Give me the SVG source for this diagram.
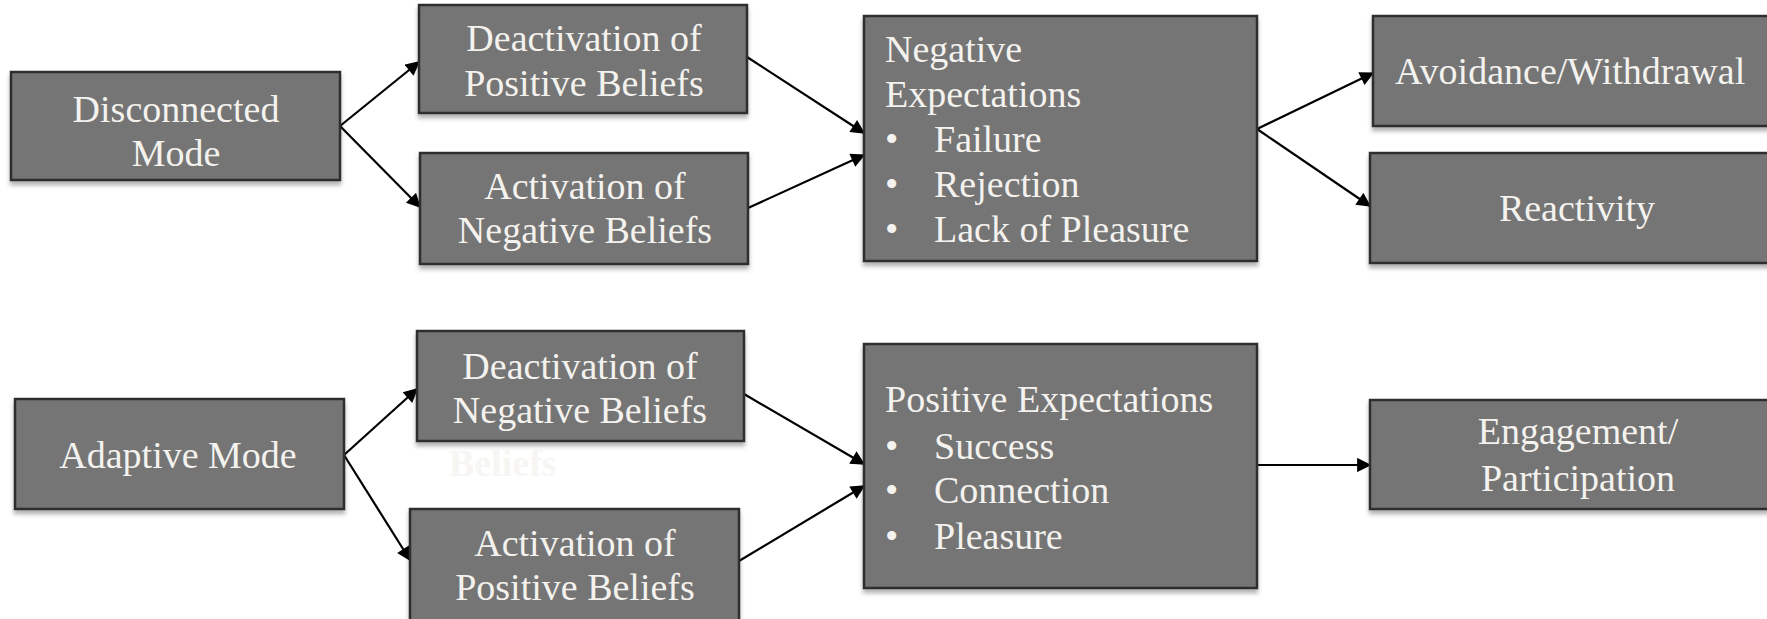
<svg xmlns="http://www.w3.org/2000/svg" width="1767" height="619" viewBox="0 0 1767 619">
<style>
.box{fill:#757575;stroke:#2e2e2e;stroke-width:2.5;filter:url(#sh)}
.t{font-family:"Liberation Serif","Times New Roman",serif;font-size:38px;fill:#f4f2ee}
.c{text-anchor:middle}
.ln{stroke:#000;stroke-width:2.2;fill:none;marker-end:url(#ah)}
</style>
<defs>
<filter id="sh" x="-5%" y="-10%" width="110%" height="130%">
<feDropShadow dx="0" dy="4" stdDeviation="2" flood-color="#000" flood-opacity="0.3"/>
</filter>
<marker id="ah" viewBox="0 0 10 10" refX="9" refY="5" markerWidth="7" markerHeight="6.5" orient="auto" markerUnits="strokeWidth">
<path d="M0,0 L10,5 L0,10 Z" fill="#000"/>
</marker>
</defs>
<g id="connectors">
<line class="ln" x1="340" y1="126" x2="419" y2="62"/>
<line class="ln" x1="340" y1="126" x2="420" y2="207"/>
<line class="ln" x1="747" y1="57" x2="864" y2="133"/>
<line class="ln" x1="748" y1="208" x2="864" y2="155"/>
<line class="ln" x1="1257" y1="129" x2="1373" y2="73"/>
<line class="ln" x1="1257" y1="129" x2="1370" y2="206"/>
<line class="ln" x1="344" y1="455" x2="417" y2="389"/>
<line class="ln" x1="344" y1="455" x2="410" y2="560"/>
<line class="ln" x1="744" y1="394" x2="864" y2="464"/>
<line class="ln" x1="739" y1="561" x2="864" y2="486"/>
<line class="ln" x1="1257" y1="465" x2="1370" y2="465"/>
</g>
<g id="disconnected">
<rect class="box" x="11" y="72" width="329" height="108"/>
<text class="t c" x="176" y="122">Disconnected</text>
<text class="t c" x="176" y="166">Mode</text>
</g>
<g id="deact-pos">
<rect class="box" x="419" y="5" width="328" height="108"/>
<text class="t c" x="584" y="51">Deactivation of</text>
<text class="t c" x="584" y="96">Positive Beliefs</text>
</g>
<g id="act-neg">
<rect class="box" x="420" y="153" width="328" height="111"/>
<text class="t c" x="585" y="199">Activation of</text>
<text class="t c" x="585" y="243">Negative Beliefs</text>
</g>
<g id="neg-exp">
<rect class="box" x="864" y="16" width="393" height="245"/>
<text class="t" x="885" y="62">Negative</text>
<text class="t" x="885" y="107">Expectations</text>
<text class="t" x="885" y="152">•</text><text class="t" x="934" y="152">Failure</text>
<text class="t" x="885" y="197">•</text><text class="t" x="934" y="197">Rejection</text>
<text class="t" x="885" y="242">•</text><text class="t" x="934" y="242">Lack of Pleasure</text>
</g>
<g id="avoidance">
<rect class="box" x="1373" y="16" width="400" height="110"/>
<text class="t" x="1395" y="84">Avoidance/Withdrawal</text>
</g>
<g id="reactivity">
<rect class="box" x="1370" y="153" width="403" height="110"/>
<text class="t c" x="1577" y="221">Reactivity</text>
</g>
<g id="adaptive">
<rect class="box" x="15" y="399" width="329" height="110"/>
<text class="t c" x="178" y="468">Adaptive Mode</text>
</g>
<g id="deact-neg">
<rect class="box" x="417" y="331" width="327" height="110"/>
<text class="t c" x="580" y="379">Deactivation of</text>
<text class="t c" x="580" y="423">Negative Beliefs</text>
</g>
<text x="449" y="476" style="font-family:'Liberation Serif',serif;font-size:38px;font-weight:bold;fill:#f7f6f3">Beliefs</text>
<g id="act-pos">
<rect class="box" x="410" y="509" width="329" height="115"/>
<text class="t c" x="575" y="556">Activation of</text>
<text class="t c" x="575" y="600">Positive Beliefs</text>
</g>
<g id="pos-exp">
<rect class="box" x="864" y="344" width="393" height="244"/>
<text class="t" x="885" y="412">Positive Expectations</text>
<text class="t" x="885" y="459">•</text><text class="t" x="934" y="459">Success</text>
<text class="t" x="885" y="503">•</text><text class="t" x="934" y="503">Connection</text>
<text class="t" x="885" y="549">•</text><text class="t" x="934" y="549">Pleasure</text>
</g>
<g id="engagement">
<rect class="box" x="1370" y="400" width="403" height="109"/>
<text class="t c" x="1578" y="444">Engagement/</text>
<text class="t c" x="1578" y="491">Participation</text>
</g>
</svg>
